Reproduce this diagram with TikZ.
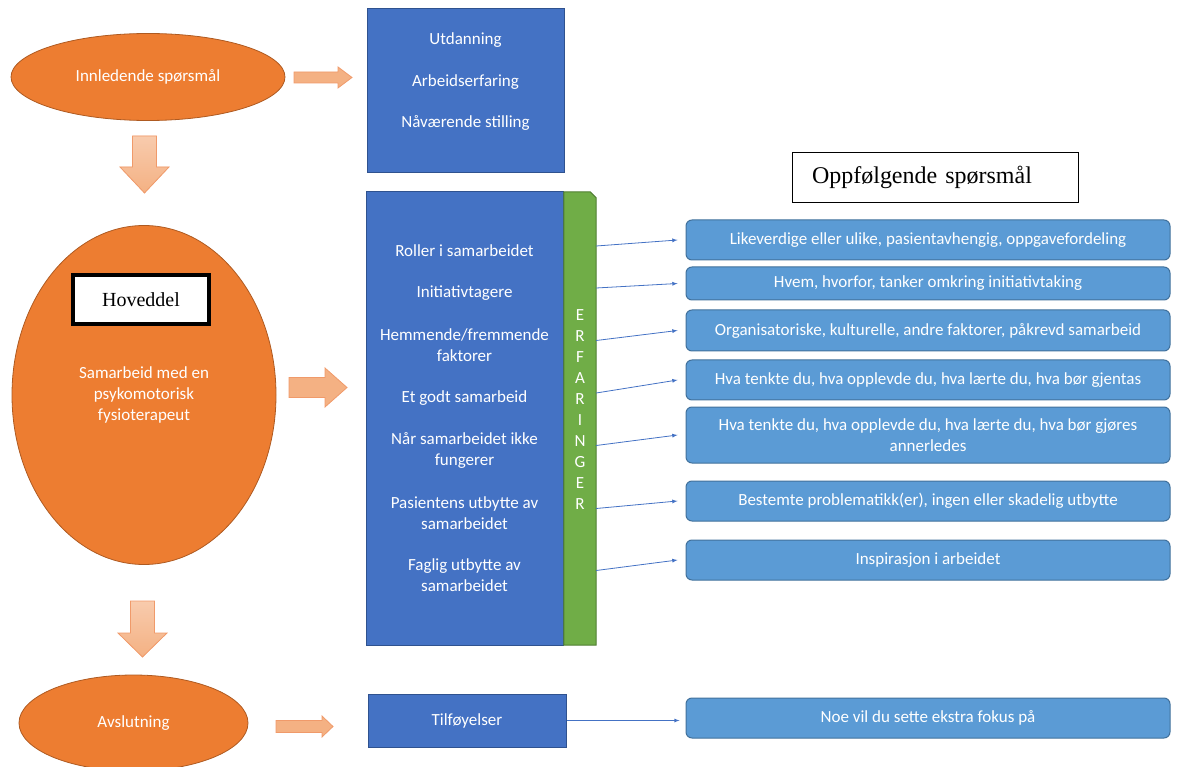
\documentclass[tikz,border=0pt]{standalone}
\usepackage{fontspec}
\setmainfont{Carlito}
\newfontfamily\serifhead{Liberation Serif}
\usetikzlibrary{shapes.geometric}

\definecolor{stageorange}{HTML}{ED7D31}
\definecolor{stageedge}{HTML}{AE5A21}
\definecolor{topicblue}{HTML}{4472C4}
\definecolor{topicedge}{HTML}{2F528F}
\definecolor{followblue}{HTML}{5B9BD5}
\definecolor{followedge}{HTML}{41719C}
\definecolor{barleaf}{HTML}{70AD47}
\definecolor{baredge}{HTML}{507E32}
\definecolor{arrowfill}{HTML}{F4B183}
\definecolor{arrowlight}{HTML}{F8CBAD}
\definecolor{arrowedge}{HTML}{F09A6A}

% fat arrows: tail x, centre y (or centre x, tail y), length, body, head, head length
\newcommand\fatright[6]{%
  \draw [fatarrow] (#1,{#2-#4/2}) -- ({#1+#3-#6},{#2-#4/2}) -- ({#1+#3-#6},{#2-#5/2})
    -- ({#1+#3},#2) -- ({#1+#3-#6},{#2+#5/2}) -- ({#1+#3-#6},{#2+#4/2}) -- (#1,{#2+#4/2}) -- cycle;}
\newcommand\fatdown[6]{%
  \draw [fatarrow, top color=arrowlight, bottom color=arrowfill]
    ({#1-#4/2},#2) -- ({#1-#4/2},{#2+#3-#6}) -- ({#1-#5/2},{#2+#3-#6})
    -- (#1,{#2+#3}) -- ({#1+#5/2},{#2+#3-#6}) -- ({#1+#4/2},{#2+#3-#6}) -- ({#1+#4/2},#2) -- cycle;}

\begin{document}
\begin{tikzpicture}[x=1pt, y=-1pt, >=latex,
  every node/.style={font=\fontsize{17}{21}\selectfont},
  stage/.style={ellipse, fill=stageorange, draw=stageedge, line width=0.8pt,
    text=white, align=center, inner sep=0pt},
  topic/.style={rectangle, fill=topicblue, draw=topicedge, line width=1pt,
    inner sep=0pt, minimum width=197pt},
  item/.style={text=white, align=center, inner sep=0pt},
  followup/.style={rectangle, rounded corners=6pt, fill=followblue,
    draw=followedge, line width=1pt, text=white, align=center,
    minimum width=484pt, inner sep=0pt},
  fatarrow/.style={fill=arrowfill, draw=arrowedge, line width=0.8pt},
  link/.style={->, draw=topicblue, line width=0.8pt}]

\useasboundingbox (0,0) rectangle (1184,767);

% left column
\node [stage, minimum width=274pt, minimum height=87pt] (intro) at (148,77)
  {Innledende spørsmål};
\node [stage, minimum width=264pt, minimum height=339pt] (main) at (144,395)
  {Samarbeid med en\\psykomotorisk\\fysioterapeut};
\node [stage, minimum width=229pt, minimum height=96pt] (closing) at (133.5,723)
  {Avslutning};
\node [draw=black, fill=white, line width=4pt, minimum width=136pt,
  minimum height=49pt, font=\serifhead\fontsize{20}{24}\selectfont]
  (hoveddel) at (141,299.5) {Hoveddel};

% fat arrows
\fatright{294}{77.5}{58}{11}{21}{14}
\fatdown{144.5}{136}{57}{24}{49}{26}
\fatright{289}{387.5}{58}{20}{39}{22}
\fatdown{142.5}{601}{56}{24}{49}{24}
\fatright{276}{726.5}{57}{12}{21}{11}

% blue topic boxes
\node [topic, minimum height=164pt] (background) at (465.5,91) {};
\foreach \t/\y [count=\i] in {Utdanning/40, Arbeidserfaring/82, Nåværende stilling/123}
  \node [item] (background-\i) at (465.5,\y) {\t};

\node [topic, minimum height=453pt] (topics) at (464.5,418.5) {};
\node [minimum width=32pt, minimum height=453pt, inner sep=0pt] (erfaringer) at (580,418.5) {};
\draw [fill=barleaf, draw=baredge, line width=1pt] (erfaringer.south west)
  |- ([xshift=-6pt]erfaringer.north east) -- ([yshift=-6pt]erfaringer.north east)
  -- (erfaringer.south east) -- cycle;
\node [item] (erfaringer-text) at (580,409.5) {E\\R\\F\\A\\R\\I\\N\\G\\E\\R};

\foreach \t/\y [count=\i] in {Roller i samarbeidet/251, Initiativtagere/293,
    {Hemmende/fremmende\\faktorer}/345.5, Et godt samarbeid/398,
    {Når samarbeidet ikke\\fungerer}/450.5, {Pasientens utbytte av\\samarbeidet}/513.5,
    {Faglig utbytte av\\samarbeidet}/575.5}
  \node [item] (item-\i) at (464.5,\y) {\t};

\node [topic, minimum width=198pt, minimum height=53pt, text=white] (extra) at (467,720.5)
  {Tilføyelser};

% follow-up questions
\node [draw=black, line width=0.8pt, minimum height=50pt, text width=246pt,
  inner xsep=20pt, align=left, font=\serifhead\fontsize{24}{28}\selectfont]
  (followhead) at (935,177) {Oppfølgende spørsmål};

\foreach \t/\y/\h [count=\i] in {
    {Likeverdige eller ulike, pasientavhengig, oppgavefordeling}/240/40,
    {Hvem, hvorfor, tanker omkring initiativtaking}/283.5/33,
    {Organisatoriske, kulturelle, andre faktorer, påkrevd samarbeid}/330.5/41,
    {Hva tenkte du, hva opplevde du, hva lærte du, hva bør gjentas}/380/40,
    {Hva tenkte du, hva opplevde du, hva lærte du, hva bør gjøres\\annerledes}/435/56,
    {Bestemte problematikk(er), ingen eller skadelig utbytte}/501/40,
    {Inspirasjon i arbeidet}/560/40}
  \node [followup, minimum height=\h pt] (follow-\i) at (928,\y) {\t};

\node [followup, minimum height=40pt] (focus) at (928,718) {Noe vil du sette ekstra fokus på};

% links
\foreach \i in {1,...,7}
  \draw [link] ([yshift=5pt]erfaringer.east |- item-\i) -- ([xshift=-8pt]follow-\i.west);

\draw [link] (extra.east) -- ([xshift=-6pt]extra.east -| focus.west);

\end{tikzpicture}
\end{document}
